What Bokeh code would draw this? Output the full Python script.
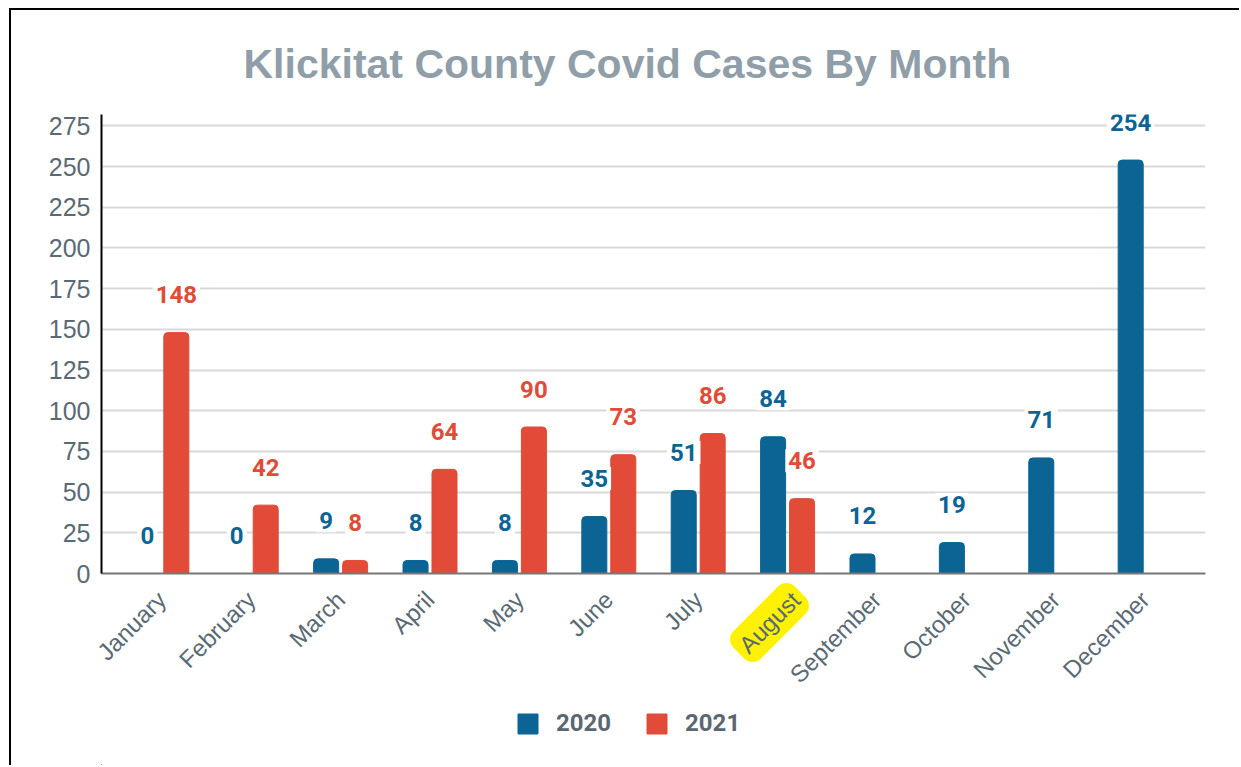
import math
from bokeh.plotting import figure
from bokeh.layouts import column
from bokeh.models import (ColumnDataSource, FactorRange, Range1d, FixedTicker, Legend,
                          LegendItem, Label)
from bokeh.transform import dodge
from bokeh.core.properties import value
from bokeh.embed import file_html
from bokeh.resources import INLINE

# ---- data ----
months = ["January", "February", "March", "April", "May", "June", "July",
          "August", "September", "October", "November", "December"]
cases_2020 = [0, 0, 9, 8, 8, 35, 51, 84, 12, 19, 71, 254]
cases_2021 = [148, 42, 8, 64, 90, 73, 86, 46, None, None, None, None]
series_names = ["2020", "2021"]
y_ticks = [0, 25, 50, 75, 100, 125, 150, 175, 200, 225, 250, 275]
title_text = "Klickitat County Covid Cases By Month"
highlighted_month = "August"

BLUE = "#0b6494"
RED = "#e14b37"
TICK = "#5a6a75"

src20 = ColumnDataSource(dict(month=months, v=cases_2020, t=[str(v) for v in cases_2020]))
m21 = [m for m, v in zip(months, cases_2021) if v is not None]
v21 = [v for v in cases_2021 if v is not None]
src21 = ColumnDataSource(dict(month=m21, v=v21, t=[str(v) for v in v21]))

p = figure(width=1228, height=693,
           x_range=FactorRange(*months, range_padding=0.175, range_padding_units="absolute"),
           y_range=Range1d(0, 282),
           output_backend="svg", toolbar_location=None,
           min_border_left=90, min_border_right=34, min_border_top=104, min_border_bottom=130)

p.title.text = title_text
p.title.text_font = "Liberation Sans"
p.title.text_font_size = "41px"
p.title.text_font_style = "bold"
p.title.text_color = "#8f9ea8"
p.title.align = "left"
p.title.offset = 142
p.title.standoff = 55

p.outline_line_color = None
p.background_fill_color = "white"
p.border_fill_color = "white"

r20 = p.vbar(x=dodge("month", -0.162, range=p.x_range), top="v", width=0.28, bottom=0,
             source=src20, color=BLUE, border_radius=(4, 4, 0, 0))
r21 = p.vbar(x=dodge("month", 0.162, range=p.x_range), top="v", width=0.28, bottom=0,
             source=src21, color=RED, border_radius=(4, 4, 0, 0))

p.text(x=dodge("month", -0.162, range=p.x_range), y="v", text="t", source=src20,
       text_font=value("Roboto"), text_font_style="bold", text_font_size="24px",
       text_color=BLUE, text_align="center", text_baseline="middle", y_offset=-38,
       background_fill_color="white", padding=3)
p.text(x=dodge("month", 0.162, range=p.x_range), y="v", text="t", source=src21,
       text_font=value("Roboto"), text_font_style="bold", text_font_size="24px",
       text_color=RED, text_align="center", text_baseline="middle", y_offset=-38,
       background_fill_color="white", padding=3)

# axes
p.yaxis.ticker = FixedTicker(ticks=y_ticks)
p.yaxis.axis_line_color = "black"
p.yaxis.axis_line_width = 2
p.yaxis.major_tick_line_color = None
p.yaxis.major_tick_out = 0
p.yaxis.major_tick_in = 0
p.yaxis.minor_tick_line_color = None
p.yaxis.major_label_text_font = "Liberation Sans"
p.yaxis.major_label_text_font_size = "25px"
p.yaxis.major_label_text_color = TICK
p.yaxis.major_label_standoff = 11

p.xaxis.axis_line_color = "#777777"
p.xaxis.axis_line_width = 2
p.xaxis.major_tick_line_color = None
p.xaxis.major_tick_out = 0
p.xaxis.major_tick_in = 0
p.xaxis.major_label_orientation = math.pi / 4
p.xaxis.major_label_text_font = "Liberation Sans"
p.xaxis.major_label_text_font_size = "24px"
p.xaxis.major_label_text_color = TICK
p.xaxis.major_label_standoff = 22
# the highlighted month's label is drawn on the overlay strip with its yellow marker
p.xaxis.major_label_overrides = {highlighted_month: " "}

p.xgrid.grid_line_color = None
p.ygrid.grid_line_color = "#d9d9d9"
p.ygrid.grid_line_width = 2
p.ygrid.ticker = FixedTicker(ticks=y_ticks)

# transparent overlay strip over the bottom of the chart: highlighter + legend
q = figure(width=1228, height=192, x_range=Range1d(0, 1228), y_range=Range1d(0, 192),
           output_backend="svg", toolbar_location=None,
           x_axis_location=None, y_axis_location=None, min_border=0)
q.outline_line_color = None
q.grid.visible = False
q.background_fill_alpha = 0
q.border_fill_alpha = 0
q.styles = {"margin-top": "-130px"}

hl = Label(x=743, y=143, text=highlighted_month, angle=math.pi / 4,
           text_font="Liberation Sans", text_font_size="24px", text_color=TICK,
           text_align="center", text_baseline="middle",
           background_fill_color="#fff200", padding=6, border_radius=12)
q.add_layout(hl)

s20 = q.vbar(x=[-100], top=[1], bottom=[0], width=1, color=BLUE)
s21 = q.vbar(x=[-100], top=[1], bottom=[0], width=1, color=RED)
legend = Legend(items=[LegendItem(label=series_names[0], renderers=[s20]),
                       LegendItem(label=series_names[1], renderers=[s21])],
                orientation="horizontal", location=(414, 28),
                border_line_color=None, background_fill_alpha=0,
                label_text_font="Roboto", label_text_font_style="bold",
                label_text_font_size="24px", label_text_color="#5a6670",
                glyph_width=25, glyph_height=25, spacing=33, label_standoff=16,
                padding=0, margin=0)
q.add_layout(legend)

layout = column(p, q, spacing=0)
layout.styles = {"border-left": "2px solid black", "border-top": "2px solid black",
                 "margin-left": "9px", "margin-top": "8px"}

open("out.html", "w").write(file_html(layout, INLINE))
